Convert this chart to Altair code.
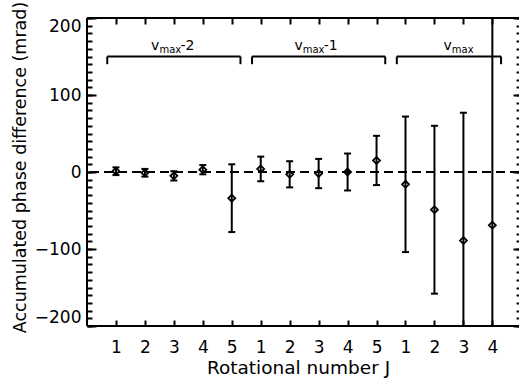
import altair as alt
import pandas as pd

FONT = "DejaVu Sans"

# ---- data ----
J_LABELS = ["1", "2", "3", "4", "5", "1", "2", "3", "4", "5", "1", "2", "3", "4"]
GROUP = ["vmax-2"] * 5 + ["vmax-1"] * 5 + ["vmax"] * 4
PHASE = [1, -1, -5, 3, -34, 4, -3, -2, 0, 15, -16, -49, -89, -69]
ERROR = [5, 5, 6, 6, 44, 16, 17, 19, 24, 32, 88, 109, 166, 300]

GROUP_NAMES = ["vmax-2", "vmax-1", "vmax"]
GROUP_MAIN = ["v", "v", "v"]
GROUP_SUB = ["max", "max", "max"]
GROUP_SUFFIX = ["-2", "-1", ""]

Y_TICKS = [-200, -100, 0, 100, 200]
Y_MINOR = list(range(-200, 201, 10))
X_TICKS = list(range(1, len(J_LABELS) + 1))

# annotation placement (data coordinates)
LABEL_X = [2.5, 7.45, 12.6]
LABEL_Y = 158
BRACKET_Y = 150
BRACKET_DROP = 140

df = pd.DataFrame({
    "pos": X_TICKS,
    "J": J_LABELS,
    "group": GROUP,
    "phase": PHASE,
    "err": ERROR,
})
df["lo"] = df["phase"] - df["err"]
df["hi"] = df["phase"] + df["err"]

starts, ends = [], []
for g in GROUP_NAMES:
    p = df.loc[df["group"] == g, "pos"]
    starts.append(p.min() - 0.3)
    ends.append(p.max() + 0.3)
gdf = pd.DataFrame({"group": GROUP_NAMES, "start": starts, "end": ends,
                    "by": [BRACKET_Y] * 3, "bd": [BRACKET_DROP] * 3})
vdf = pd.DataFrame({"x": starts + ends, "by": [BRACKET_Y] * 6, "bd": [BRACKET_DROP] * 6})
tdf = pd.DataFrame({"lx": LABEL_X, "ly": [LABEL_Y] * 3, "main": GROUP_MAIN,
                    "sub": GROUP_SUB, "suffix": GROUP_SUFFIX})

xs = alt.Scale(domain=[0, 14.92], nice=False, zero=False)
ys = alt.Scale(domain=[-200, 200], nice=False, zero=False)

label_expr = "[" + ",".join("'%s'" % s for s in J_LABELS) + "][datum.value - 1]"

x_bottom = alt.Axis(orient="bottom", offset=-6, values=X_TICKS, tickSize=6, tickWidth=2,
                    tickColor="black", domain=False, grid=False, labelExpr=label_expr,
                    labelFont=FONT, labelFontSize=17, labelColor="black", labelPadding=13,
                    labelFlush=False, labelAngle=0,
                    title="Rotational number J", titleFont=FONT, titleFontSize=18.5,
                    titleFontWeight="normal", titleColor="black", titleX=211,
                    titleY=53, titleAlign="center", titleBaseline="alphabetic")
x_top = alt.Axis(orient="top", offset=-6, values=X_TICKS, tickSize=6, tickWidth=2,
                 tickColor="black", domain=False, grid=False, labels=False, title=None)

y_left = alt.Axis(orient="left", offset=-9, values=Y_TICKS, tickSize=9, tickWidth=2,
                  tickColor="black", domain=False, grid=False, labelFont=FONT,
                  labelFontSize=17, labelColor="black", labelPadding=6, labelFlush=True,
                  title="Accumulated phase difference (mrad)", titleFont=FONT,
                  titleFontSize=17.5, titleFontWeight="normal", titleColor="black",
                  titleX=-71, titleY=149, titleAngle=-90, titleAlign="center",
                  titleBaseline="alphabetic")
y_left_minor = alt.Axis(orient="left", offset=-5, values=Y_MINOR, tickSize=5, tickWidth=2,
                        tickColor="black", domain=False, grid=False, labels=False, title=None)
y_right = alt.Axis(orient="right", offset=-6, values=Y_TICKS, tickSize=6, tickWidth=2,
                   tickColor="black", domain=False, grid=False, labels=False, title=None)
y_right_minor = alt.Axis(orient="right", offset=-3, values=Y_MINOR, tickSize=3, tickWidth=2,
                         tickColor="black", domain=False, grid=False, labels=False, title=None)

base = alt.Chart(df)

err_rule = base.mark_rule(strokeWidth=2, color="black", clip=True).encode(
    x=alt.X("pos:Q", scale=xs, axis=x_bottom),
    y=alt.Y("lo:Q", scale=ys, axis=y_left),
    y2="hi:Q",
)
caps_lo = base.mark_tick(orient="horizontal", size=7, thickness=2, color="black",
                         clip=True, opacity=1).encode(
    x=alt.X("pos:Q", scale=xs, axis=x_top),
    y=alt.Y("lo:Q", scale=ys, axis=y_left_minor),
)
caps_hi = base.mark_tick(orient="horizontal", size=7, thickness=2, color="black",
                         clip=True, opacity=1).encode(
    x=alt.X("pos:Q", scale=xs, axis=None),
    y=alt.Y("hi:Q", scale=ys, axis=None),
)
points = base.mark_point(shape="diamond", size=48, filled=False, strokeWidth=1.8,
                         color="black", opacity=1).encode(
    x=alt.X("pos:Q", scale=xs, axis=None),
    y=alt.Y("phase:Q", scale=ys, axis=y_right),
)
zero = alt.Chart(pd.DataFrame({"yv": [0]})).mark_rule(
    strokeDash=[9, 5], strokeWidth=2, color="black").encode(
    y=alt.Y("yv:Q", scale=ys, axis=y_right_minor),
)
frame_h = alt.Chart(pd.DataFrame({"yv": [-200, 200]})).mark_rule(
    strokeWidth=2, color="black").encode(y=alt.Y("yv:Q", scale=ys, axis=None))
frame_v = alt.Chart(pd.DataFrame({"xv": [0]})).mark_rule(
    strokeWidth=2, color="black").encode(x=alt.X("xv:Q", scale=xs, axis=None))

br_h = alt.Chart(gdf).mark_rule(strokeWidth=2, color="black").encode(
    x=alt.X("start:Q", scale=xs, axis=None), x2="end:Q",
    y=alt.Y("by:Q", scale=ys, axis=None))
br_v = alt.Chart(vdf).mark_rule(strokeWidth=2, color="black").encode(
    x=alt.X("x:Q", scale=xs, axis=None),
    y=alt.Y("by:Q", scale=ys, axis=None), y2="bd:Q")

t_main = alt.Chart(tdf).mark_text(align="right", baseline="alphabetic", font=FONT,
                                  fontSize=14, color="black").encode(
    x=alt.X("lx:Q", scale=xs, axis=None), y=alt.Y("ly:Q", scale=ys, axis=None), text="main:N")
t_sub = alt.Chart(tdf).mark_text(align="left", baseline="alphabetic", font=FONT,
                                 fontSize=10, dy=3, color="black").encode(
    x=alt.X("lx:Q", scale=xs, axis=None), y=alt.Y("ly:Q", scale=ys, axis=None), text="sub:N")
t_suf = alt.Chart(tdf).mark_text(align="left", baseline="alphabetic", font=FONT,
                                 fontSize=14, dx=21, color="black").encode(
    x=alt.X("lx:Q", scale=xs, axis=None), y=alt.Y("ly:Q", scale=ys, axis=None), text="suffix:N")

chart = alt.layer(
    err_rule, caps_lo, caps_hi, points, zero, frame_h, frame_v, br_h, br_v,
    t_main, t_sub, t_suf,
).resolve_axis(x="independent", y="independent").properties(
    width=432, height=308,
    padding={"left": 87, "top": 18, "right": 0, "bottom": 58},
    autosize=alt.AutoSizeParams(type="none"),
    background="white",
).configure_view(stroke="transparent")

chart.save("out.html", embed_options={"renderer": "svg", "actions": False})
